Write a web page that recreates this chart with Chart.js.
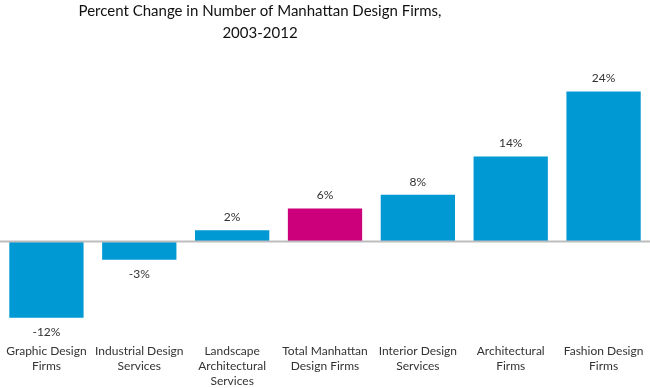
<!DOCTYPE html>
<html>
<head>
<meta charset="utf-8">
<script src="https://cdn.jsdelivr.net/npm/chart.js@4.4.1/dist/chart.umd.min.js"></script>
<style>
  html, body { margin: 0; padding: 0; background: #fff; }
  #wrap { width: 650px; height: 388px; }
</style>
</head>
<body>
<div id="wrap"><canvas id="myChart"></canvas></div>
<script>
// chart data
var categories = [
    ['Graphic Design', 'Firms'],
    ['Industrial Design', 'Services'],
    ['Landscape', 'Architectural', 'Services'],
    ['Total Manhattan', 'Design Firms'],
    ['Interior Design', 'Services'],
    ['Architectural', 'Firms'],
    ['Fashion Design', 'Firms']
];
var changeValues = [-12.2, -2.9, 1.8, 5.3, 7.5, 13.6, 24];
var valueLabels = ['-12%', '-3%', '2%', '6%', '8%', '14%', '24%'];
var barColors = ['#0099d4', '#0099d4', '#0099d4', '#cc007a', '#0099d4', '#0099d4', '#0099d4'];
var titleLines = ['Percent Change in Number of Manhattan Design Firms,', '2003-2012'];

var fontFamily = 'Lato, "Noto Sans", sans-serif';

// title, zero line and value labels
var extras = {
    id: 'extras',
    afterDatasetsDraw: function (chart) {
        var ctx = chart.ctx;
        var y = chart.scales.y;
        var zero = y.getPixelForValue(0);

        ctx.save();
        ctx.strokeStyle = '#bdbdbd';
        ctx.lineWidth = 2;
        ctx.beginPath();
        ctx.moveTo(0, zero);
        ctx.lineTo(chart.width, zero);
        ctx.stroke();

        ctx.fillStyle = '#333';
        ctx.font = '12px ' + fontFamily;
        ctx.textAlign = 'center';
        ctx.textBaseline = 'middle';
        chart.getDatasetMeta(0).data.forEach(function (bar, i) {
            var v = changeValues[i];
            var ly = v >= 0 ? bar.y - 13 : bar.y + 14;
            ctx.fillText(valueLabels[i], bar.x, ly);
        });

        // title
        ctx.fillStyle = '#111';
        ctx.font = '15px ' + fontFamily;
        ctx.textBaseline = 'alphabetic';
        titleLines.forEach(function (line, i) {
            ctx.fillText(line, 260, 16 + i * 22);
        });
        ctx.restore();
    }
};

var ctx = document.getElementById('myChart').getContext('2d');
var myChart = new Chart(ctx, {
    type: 'bar',
    data: {
        labels: categories,
        datasets: [{
            data: changeValues,
            backgroundColor: barColors,
            borderWidth: 0,
            barPercentage: 0.8,
            categoryPercentage: 1,
            clip: false
        }]
    },
    options: {
        responsive: true,
        maintainAspectRatio: false,
        animation: false,
        layout: { padding: { top: 53, bottom: 2, left: 0, right: 0 } },
        plugins: {
            legend: { display: false },
            tooltip: { enabled: false },
            title: { display: false }
        },
        scales: {
            x: {
                grid: { display: false, tickLength: 8 },
                border: { display: false },
                ticks: {
                    color: '#333',
                    font: { family: fontFamily, size: 12, lineHeight: 1.25 },
                    maxRotation: 0,
                    autoSkip: false,
                    padding: 10
                },
                afterFit: function (scale) {
                    // keep the bars on the full width, labels lower down
                    scale.paddingLeft = 0;
                    scale.paddingRight = 0;
                    scale.height = 60;
                }
            },
            y: {
                display: false,
                min: -13.52,
                max: 30.16
            }
        }
    },
    plugins: [extras]
});
</script>
</body>
</html>
